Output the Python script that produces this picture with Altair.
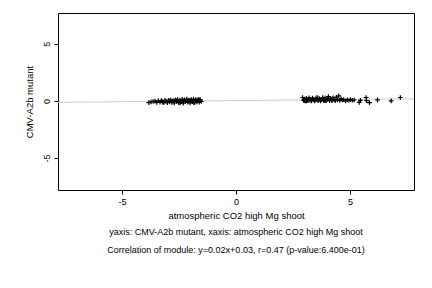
import altair as alt
import pandas as pd

x_left = [-3.82, -3.72, -3.63, -3.55, -3.47, -3.40, -3.33, -3.27, -3.21, -3.16, -3.11, -3.06,
          -3.01, -2.96, -2.91, -2.86, -2.81, -2.76, -2.71, -2.66, -2.61, -2.56, -2.51, -2.46,
          -2.41, -2.36, -2.31, -2.26, -2.21, -2.16, -2.11, -2.06, -2.01, -1.96, -1.91, -1.86,
          -1.81, -1.76, -1.71, -1.66, -1.61, -1.56, -1.52, -2.9, -2.6, -2.3, -2.0, -1.7,
          -3.2, -2.45, -2.15, -1.85, -1.6]
y_left = [-0.15, -0.08, -0.05, -0.02, -0.12, 0.03, -0.10, 0.02, -0.06, -0.14, 0.05, -0.03,
          -0.16, 0.06, -0.08, 0.08, -0.12, 0.04, -0.18, 0.09, -0.05, 0.12, -0.15, 0.07,
          -0.09, 0.14, -0.20, 0.10, -0.04, 0.16, -0.11, 0.08, -0.17, 0.12, -0.06, 0.15,
          -0.13, 0.11, -0.08, 0.13, -0.10, 0.09, -0.05, 0.00, 0.02, -0.01, 0.03, 0.01,
          -0.12, -0.18, 0.05, -0.16, 0.10]
x_right = [2.92, 2.96, 3.00, 3.04, 3.08, 3.12, 3.16, 3.20, 3.25, 3.30, 3.35, 3.40, 3.45,
           3.50, 3.55, 3.60, 3.65, 3.70, 3.75, 3.80, 3.85, 3.90, 3.95, 4.00, 4.05, 4.10,
           4.15, 4.20, 4.25, 4.30, 4.35, 4.40, 4.45, 4.50, 4.55, 4.60, 4.65, 4.72, 4.80,
           4.88, 4.95, 5.02, 5.10, 5.18, 3.0, 3.3, 3.6, 3.9, 4.2, 3.1, 3.45, 3.85, 4.1,
           5.40, 5.45, 5.70, 5.72, 5.85, 6.20, 6.80, 7.20]
y_right = [0.30, 0.05, 0.15, 0.00, 0.22, 0.08, 0.02, 0.28, 0.10, 0.04, 0.25, 0.12, 0.03,
           0.18, 0.32, 0.06, 0.20, 0.01, 0.14, 0.30, 0.07, 0.24, 0.02, 0.16, 0.38, 0.09,
           0.22, 0.04, 0.28, 0.12, 0.03, 0.33, 0.10, 0.45, 0.05, 0.18, 0.08, 0.12, 0.00,
           0.10, 0.04, 0.12, 0.06, 0.08, 0.02, 0.01, 0.03, 0.02, 0.05, 0.00, 0.01, 0.03, 0.02,
           -0.12, 0.05, 0.30, 0.02, -0.15, 0.10, 0.00, 0.30]

df = pd.DataFrame({"x": x_left + x_right, "y": y_left + y_right})

slope, intercept = 0.02, 0.03
xmin, xmax = -7.8, 7.8
ymin, ymax = -7.8, 7.7
fit = pd.DataFrame({"x": [xmin, xmax], "y": [slope * xmin + intercept, slope * xmax + intercept]})

xtitle = "atmospheric CO2 high Mg shoot"
ytitle = "CMV-A2b mutant"
line1 = "yaxis: CMV-A2b mutant, xaxis: atmospheric CO2 high Mg shoot"
line2 = "Correlation of module: y=0.02x+0.03, r=0.47 (p-value:6.400e-01)"

FONT = "Liberation Sans"

xs = alt.Scale(domain=[xmin, xmax], nice=False, zero=False)
ys = alt.Scale(domain=[ymin, ymax], nice=False, zero=False)

xaxis = alt.Axis(values=[-5, 0, 5], title=xtitle, grid=False, tickSize=4, tickColor="black",
                 domain=False, labelFont=FONT, titleFont=FONT, labelFontSize=9, titleFontSize=9.5,
                 titleFontWeight="normal", labelColor="black", titleColor="black",
                 labelExpr="toString(datum.value)",
                 labelPadding=3, titlePadding=4)
yaxis = alt.Axis(values=[-5, 0, 5], title=ytitle, grid=False, tickSize=4, tickColor="black",
                 domain=False, labelFont=FONT, titleFont=FONT, labelFontSize=9, titleFontSize=9.5,
                 titleFontWeight="normal", labelColor="black", titleColor="black",
                 labelExpr="toString(datum.value)",
                 labelAngle=270, labelAlign="center", labelBaseline="bottom", labelPadding=3,
                 titlePadding=8)

line = alt.Chart(fit).mark_line(color="#cccccc", strokeWidth=1, clip=True).encode(
    x=alt.X("x:Q", scale=xs, axis=xaxis),
    y=alt.Y("y:Q", scale=ys, axis=yaxis),
)

pts = alt.Chart(df).mark_point(shape="M-1,0L1,0M0,-1L0,1", size=22, color="black",
                               filled=False, strokeWidth=1.2, opacity=1).encode(
    x=alt.X("x:Q", scale=xs),
    y=alt.Y("y:Q", scale=ys),
)

t1 = alt.Chart(pd.DataFrame({"t": [line1]})).mark_text(
    font=FONT, fontSize=9, color="black", align="center", baseline="middle"
).encode(x=alt.value(178), y=alt.value(219), text="t:N")
t2 = alt.Chart(pd.DataFrame({"t": [line2]})).mark_text(
    font=FONT, fontSize=9, color="black", align="center", baseline="middle"
).encode(x=alt.value(178), y=alt.value(237), text="t:N")

chart = alt.layer(line, pts, t1, t2).properties(
    width=356, height=177,
    background="white",
    autosize=alt.AutoSizeParams(type="none"),
    padding={"left": 58, "top": 13, "right": 18, "bottom": 98},
).configure_view(stroke="black", strokeWidth=1)

chart.save("out.html", embed_options={"renderer": "svg", "actions": False})
